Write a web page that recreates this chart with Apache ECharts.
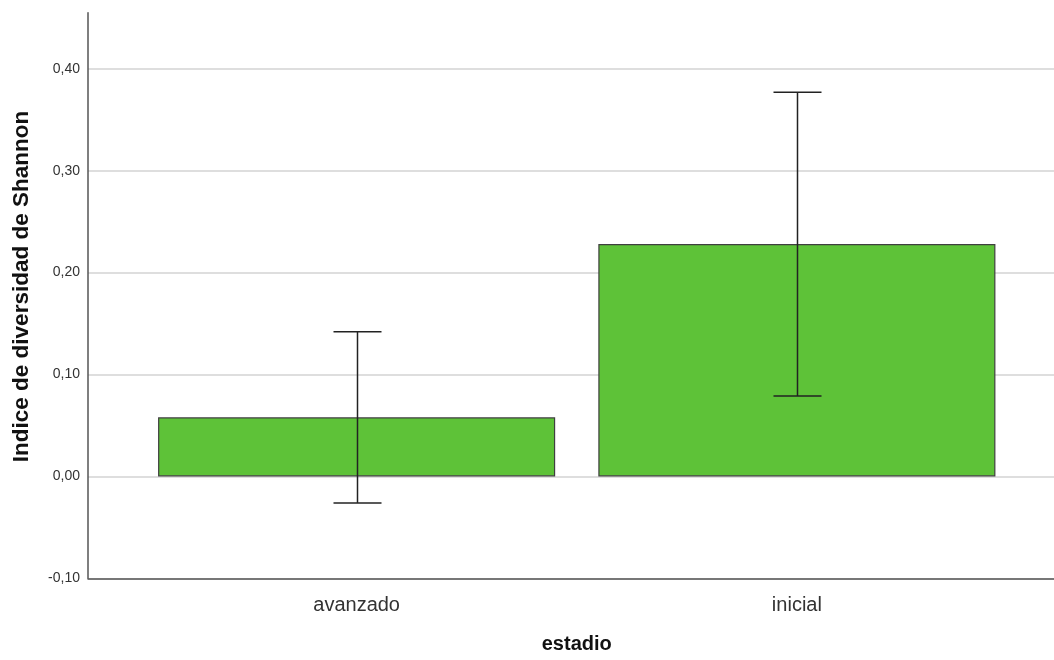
<!DOCTYPE html>
<html>
<head>
<meta charset="utf-8">
<script src="https://cdn.jsdelivr.net/npm/echarts@6/dist/echarts.min.js"></script>
<style>
html,body{margin:0;padding:0;background:#fff;}
#chart{width:1054px;height:660px;}
</style>
</head>
<body>
<div id="chart"></div>
<script>
var categories = ['avanzado', 'inicial'];
var means = [0.058, 0.228];
var lowerCI = [-0.026, 0.079];
var upperCI = [0.142, 0.377];
var yTicks = [-0.1, 0.0, 0.1, 0.2, 0.3, 0.4];

var FONT = '"Liberation Sans", Arial, sans-serif';
var chart = echarts.init(document.getElementById('chart'));

var errData = categories.map(function (c, i) { return [i, lowerCI[i], upperCI[i]]; });

var option = {
  animation: false,
  backgroundColor: '#ffffff',
  grid: [
    { left: 88, right: 0, top: 12.7, bottom: 81.7, outerBoundsMode: 'none', containLabel: false },
    { left: 136.5, right: 37, top: 12.7, bottom: 81.7, outerBoundsMode: 'none', containLabel: false }
  ],
  xAxis: [
    { type: 'value', gridIndex: 0, min: 0, max: 1, show: true,
      axisLine: { show: true, onZero: false, lineStyle: { color: '#555', width: 1.5 } },
      axisTick: { show: false }, axisLabel: { show: false }, splitLine: { show: false } },
    { type: 'category', gridIndex: 1, data: categories,
      axisLine: { show: false }, axisTick: { show: false },
      axisLabel: { margin: 17, fontSize: 20, color: '#333', fontFamily: FONT },
      name: 'estadio', nameLocation: 'middle', nameGap: 56,
      nameTextStyle: { fontSize: 20, fontWeight: 'bold', color: '#111', fontFamily: FONT } }
  ],
  yAxis: [
    { type: 'value', gridIndex: 0, min: -0.1, max: 0.455, interval: 0.1,
      axisLine: { show: true, lineStyle: { color: '#555', width: 1.5 } },
      axisTick: { show: false },
      axisLabel: { fontSize: 14, color: '#333', fontFamily: FONT, margin: 8, showMaxLabel: false,
        formatter: function (v) {
          var r = Math.round(v * 100) / 100;
          return yTicks.some(function (t) { return Math.abs(t - r) < 1e-9; }) ? r.toFixed(2).replace('.', ',') : '';
        } },
      splitLine: { show: true, showMaxLine: false, lineStyle: { color: '#d3d3d3', width: 1.5 } },
      name: 'Indice de diversidad de Shannon', nameLocation: 'middle', nameGap: 55,
      nameTextStyle: { fontSize: 22.5, fontWeight: 'bold', color: '#111', fontFamily: FONT, padding: [0, 0, 0, 18] } },
    { type: 'value', gridIndex: 1, min: -0.1, max: 0.455, interval: 0.1, show: false,
      splitLine: { show: false } }
  ],
  series: [
    { type: 'bar', xAxisIndex: 1, yAxisIndex: 1, data: means, barWidth: '90.2%',
      itemStyle: { color: '#5ec238', borderColor: '#3f3f3f', borderWidth: 1.2 }, z: 2 },
    { type: 'custom', xAxisIndex: 1, yAxisIndex: 1, data: errData, z: 5,
      renderItem: function (params, api) {
        var x = api.value(0);
        var lo = api.coord([x, api.value(1)]);
        var hi = api.coord([x, api.value(2)]);
        var cx = Math.round(lo[0]) + 0.5;
        var hw = 24;
        var st = { stroke: '#222', lineWidth: 1.5 };
        return { type: 'group', children: [
          { type: 'line', shape: { x1: cx, y1: hi[1], x2: cx, y2: lo[1] }, style: st },
          { type: 'line', shape: { x1: cx - hw, y1: hi[1], x2: cx + hw, y2: hi[1] }, style: st },
          { type: 'line', shape: { x1: cx - hw, y1: lo[1], x2: cx + hw, y2: lo[1] }, style: st }
        ] };
      } }
  ]
};
chart.setOption(option);
</script>
</body>
</html>
